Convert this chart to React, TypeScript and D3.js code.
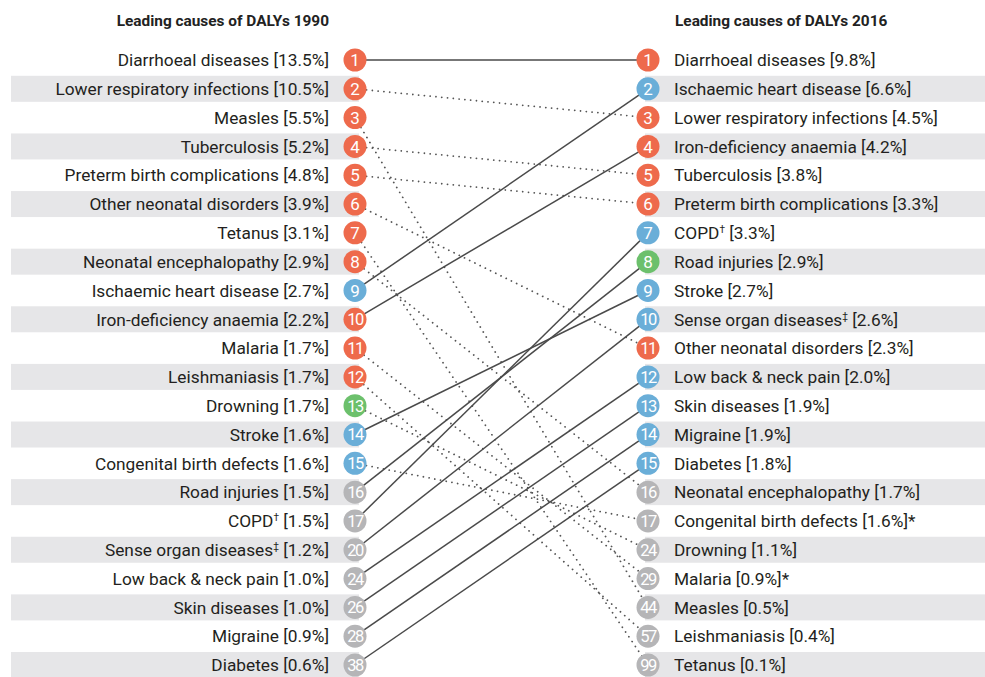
import React, { useEffect, useRef } from 'react';
import * as d3 from 'd3';

// 1990 ranking
const causes1990 = [
  'Diarrhoeal diseases', 'Lower respiratory infections', 'Measles', 'Tuberculosis',
  'Preterm birth complications', 'Other neonatal disorders', 'Tetanus', 'Neonatal encephalopathy',
  'Ischaemic heart disease', 'Iron-deficiency anaemia', 'Malaria', 'Leishmaniasis',
  'Drowning', 'Stroke', 'Congenital birth defects', 'Road injuries', 'COPD',
  'Sense organ diseases', 'Low back & neck pain', 'Skin diseases', 'Migraine', 'Diabetes',
];
const ranks1990 = [1, 2, 3, 4, 5, 6, 7, 8, 9, 10, 11, 12, 13, 14, 15, 16, 17, 20, 24, 26, 28, 38];
const shares1990 = ['13.5', '10.5', '5.5', '5.2', '4.8', '3.9', '3.1', '2.9', '2.7', '2.2', '1.7', '1.7', '1.7', '1.6', '1.6', '1.5', '1.5', '1.2', '1.0', '1.0', '0.9', '0.6'];

// 2016 ranking
const causes2016 = [
  'Diarrhoeal diseases', 'Ischaemic heart disease', 'Lower respiratory infections', 'Iron-deficiency anaemia',
  'Tuberculosis', 'Preterm birth complications', 'COPD', 'Road injuries', 'Stroke',
  'Sense organ diseases', 'Other neonatal disorders', 'Low back & neck pain', 'Skin diseases',
  'Migraine', 'Diabetes', 'Neonatal encephalopathy', 'Congenital birth defects', 'Drowning',
  'Malaria', 'Measles', 'Leishmaniasis', 'Tetanus',
];
const ranks2016 = [1, 2, 3, 4, 5, 6, 7, 8, 9, 10, 11, 12, 13, 14, 15, 16, 17, 24, 29, 44, 57, 99];
const shares2016 = ['9.8', '6.6', '4.5', '4.2', '3.8', '3.3', '3.3', '2.9', '2.7', '2.6', '2.3', '2.0', '1.9', '1.9', '1.8', '1.7', '1.6', '1.1', '0.9', '0.5', '0.4', '0.1'];
const starred2016 = ['Congenital birth defects', 'Malaria'];

// cause groups
const communicable = [
  'Diarrhoeal diseases', 'Lower respiratory infections', 'Measles', 'Tuberculosis',
  'Preterm birth complications', 'Other neonatal disorders', 'Tetanus', 'Neonatal encephalopathy',
  'Iron-deficiency anaemia', 'Malaria', 'Leishmaniasis',
];
const injuries = ['Drowning', 'Road injuries'];
const marks: Record<string, string> = { 'COPD': '†', 'Sense organ diseases': '‡' };

const groupColor = (name: string, rank: number) => {
  if (rank > 15) return '#b5b5b7';
  if (communicable.includes(name)) return '#ee6a4c';
  if (injuries.includes(name)) return '#6cc06c';
  return '#6aaed8';
};

const App = () => {
  const ref = useRef<SVGSVGElement>(null);

  useEffect(() => {
    document.body.style.margin = '0';
    drawChart();
  }, []);

  const drawChart = () => {
    const svg = d3.select(ref.current);
    svg.selectAll('*').remove();

    const font = 'Roboto, sans-serif';
    const fontSize = 17.3;
    const leftX = 355;
    const rightX = 648;
    const r = 11.5;

    const y = d3.scalePoint<number>()
      .domain(d3.range(causes1990.length))
      .range([60, 665]);

    // alternating row bands
    d3.range(causes1990.length).filter(i => i % 2 === 1).forEach(i => {
      svg.append('rect')
        .attr('x', 11).attr('y', y(i)! - 13)
        .attr('width', leftX + 4 - 11).attr('height', 26)
        .attr('fill', '#e6e6e8');
      svg.append('rect')
        .attr('x', rightX - 3).attr('y', y(i)! - 13)
        .attr('width', 985 - rightX + 3).attr('height', 26)
        .attr('fill', '#e6e6e8');
    });

    // titles
    svg.append('text')
      .attr('x', 329).attr('y', 26)
      .attr('text-anchor', 'end')
      .attr('font-family', font).attr('font-weight', 'bold').attr('font-size', 15.4)
      .attr('fill', '#222')
      .text('Leading causes of DALYs 1990');
    svg.append('text')
      .attr('x', 675).attr('y', 26)
      .attr('font-family', font).attr('font-weight', 'bold').attr('font-size', 15.4)
      .attr('fill', '#222')
      .text('Leading causes of DALYs 2016');

    // connecting lines: solid when the cause rose, dotted when it fell
    causes1990.forEach((name, i) => {
      const j = causes2016.indexOf(name);
      const fell = j > i;
      svg.append('line')
        .attr('x1', leftX).attr('y1', y(i)!)
        .attr('x2', rightX).attr('y2', y(j)!)
        .attr('stroke', fell ? '#555' : '#4a4a4a')
        .attr('stroke-width', fell ? 1.8 : 1.5)
        .attr('stroke-dasharray', fell ? '0.01,5.8' : null)
        .attr('stroke-linecap', fell ? 'round' : 'butt');
    });

    const label = (g: d3.Selection<SVGTextElement, unknown, null, undefined>, name: string, share: string, star: boolean) => {
      g.append('tspan').text(name);
      const rest = ` [${share}%]` + (star ? '*' : '');
      if (marks[name]) {
        g.append('tspan').attr('font-size', 10).attr('dy', -6).text(marks[name]);
        g.append('tspan').attr('dy', 6).text(rest);
      } else {
        g.append('tspan').text(rest);
      }
    };

    const circle = (cx: number, cy: number, rank: number, color: string) => {
      svg.append('circle')
        .attr('cx', cx).attr('cy', cy).attr('r', r)
        .attr('fill', color);
      svg.append('text')
        .attr('x', cx).attr('y', cy).attr('dy', '0.36em')
        .attr('text-anchor', 'middle')
        .attr('font-family', font).attr('font-size', rank > 9 ? 16.5 : 17)
        .attr('letter-spacing', rank > 9 ? -1.5 : 0)
        .attr('fill', '#fff')
        .text(rank);
    };

    // left column
    causes1990.forEach((name, i) => {
      const t = svg.append('text')
        .attr('x', 329).attr('y', y(i)!).attr('dy', '0.36em')
        .attr('text-anchor', 'end')
        .attr('font-family', font).attr('font-size', fontSize)
        .attr('fill', '#231f20');
      label(t, name, shares1990[i], false);
      circle(leftX, y(i)!, ranks1990[i], groupColor(name, ranks1990[i]));
    });

    // right column
    causes2016.forEach((name, i) => {
      const t = svg.append('text')
        .attr('x', 674).attr('y', y(i)!).attr('dy', '0.36em')
        .attr('font-family', font).attr('font-size', fontSize)
        .attr('fill', '#231f20');
      label(t, name, shares2016[i], starred2016.includes(name));
      circle(rightX, y(i)!, ranks2016[i], groupColor(name, ranks2016[i]));
    });
  };

  return <svg ref={ref} width={985} height={677} style={{ display: 'block' }} />;
};

export default App;
